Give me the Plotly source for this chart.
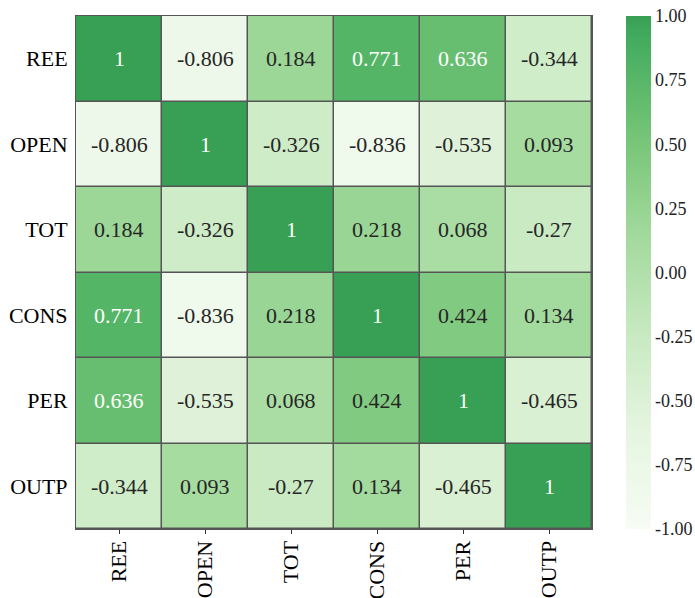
import plotly.graph_objects as go

labels = ["REE", "OPEN", "TOT", "CONS", "PER", "OUTP"]
corr = [
    [1, -0.806, 0.184, 0.771, 0.636, -0.344],
    [-0.806, 1, -0.326, -0.836, -0.535, 0.093],
    [0.184, -0.326, 1, 0.218, 0.068, -0.27],
    [0.771, -0.836, 0.218, 1, 0.424, 0.134],
    [0.636, -0.535, 0.068, 0.424, 1, -0.465],
    [-0.344, 0.093, -0.27, 0.134, -0.465, 1],
]
cbar_ticks = [-1.0, -0.75, -0.5, -0.25, 0.0, 0.25, 0.5, 0.75, 1.0]

colorscale = [
    [0.0, "#f7fcf5"],
    [0.192, "#e5f5e0"],
    [0.385, "#c7e9c0"],
    [0.577, "#a1d99b"],
    [0.769, "#74c476"],
    [0.962, "#41ab5d"],
    [1.0, "#38a055"],
]

font_family = "Liberation Serif, Times New Roman, serif"

# keep the end ticks a hair inside the colour range so they are not dropped
cbar_tickvals = [max(min(v, 0.9999), -0.9999) for v in cbar_ticks]

fig = go.Figure(
    go.Heatmap(
        z=corr,
        x=labels,
        y=labels,
        zmin=-1,
        zmax=1,
        colorscale=colorscale,
        xgap=1.5,
        ygap=1.5,
        colorbar=dict(
            x=1.066,
            xanchor="left",
            xpad=0,
            ypad=0,
            y=0.5,
            yanchor="middle",
            len=1.0,
            lenmode="fraction",
            thickness=25,
            outlinewidth=0,
            tickvals=cbar_tickvals,
            ticktext=[f"{v:.2f}" for v in cbar_ticks],
            ticks="",
            ticklen=0,
            tickfont=dict(family=font_family, size=18, color="#222"),
        ),
        hoverinfo="skip",
    )
)

annotations = []
for i, row in enumerate(corr):
    for j, v in enumerate(row):
        annotations.append(
            dict(
                x=labels[j],
                y=labels[i],
                text=f"{v:g}",
                showarrow=False,
                font=dict(family=font_family, size=22,
                          color="white" if v > 0.55 else "#262626"),
            )
        )

fig.update_layout(
    width=695,
    height=598,
    margin=dict(l=76, r=103, t=16, b=69, autoexpand=False),
    paper_bgcolor="white",
    plot_bgcolor="#555555",
    annotations=annotations,
    font=dict(family=font_family),
)
fig.update_xaxes(
    automargin=False,
    tickangle=-90,
    tickfont=dict(family=font_family, size=22, color="black"),
    ticks="outside",
    ticklen=4,
    tickcolor="#333",
    ticklabelstandoff=-2,
    showline=True,
    linecolor="#555555",
    linewidth=1,
    mirror=True,
    showgrid=False,
    zeroline=False,
)
fig.update_yaxes(
    automargin=False,
    autorange="reversed",
    tickfont=dict(family=font_family, size=22, color="black"),
    ticks="",
    ticklabelstandoff=3,
    showline=True,
    linecolor="#555555",
    linewidth=1,
    mirror=True,
    showgrid=False,
    zeroline=False,
)

fig.write_html(
    "out.html",
    config={"displayModeBar": False},
    post_script="document.body.style.margin='0px';document.body.style.overflow='hidden';",
)
